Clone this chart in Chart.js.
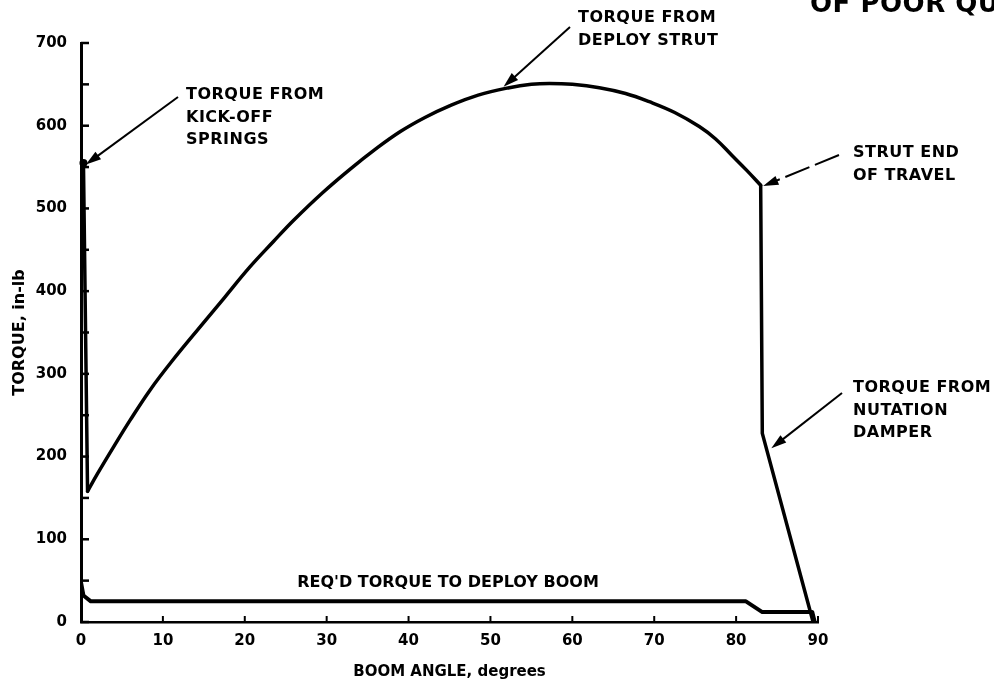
<!DOCTYPE html>
<html>
<head>
<meta charset="utf-8">
<script src="https://cdn.jsdelivr.net/npm/chart.js@4"></script>
<style>
  html, body { margin: 0; padding: 0; background: #fff; }
  #wrap { width: 994px; height: 689px; }
</style>
</head>
<body>
<div id="wrap"><canvas id="torqueChart" width="994" height="689"></canvas></div>
<script>
// ===== boom deploy torque =====

// kick-off springs (drop at start)
const kickAngle  = [0.3, 0.8];
const kickTorque = [555, 158];

// deploy strut arc
const strutAngle  = [0.8, 2, 4, 6, 8.4, 11, 14.9, 17.5, 20.6, 23.5, 26, 29.5, 32.8, 36, 39, 42, 45, 48.5, 52.3, 55, 57.2, 60, 63.3, 66.5, 69.4, 72.5, 75.5, 77.5, 79.5, 81.3, 83.0];
const strutTorque = [158, 179, 212, 244, 280, 314, 361, 392, 429, 460, 486, 519, 547, 572, 593, 610, 624, 637, 646, 650, 651, 650, 646, 639, 629, 616, 599, 584, 564, 546, 528];

// strut end of travel + nutation damper
const damperAngle  = [83.0, 83.2, 89.4];
const damperTorque = [528, 228, 0];

// required torque to deploy boom
const reqAngle  = [0, 0.3, 1.2, 81.2, 83.2, 89.3, 89.6];
const reqTorque = [48, 32, 25, 25, 12, 12, 0];

const xTickStep = 10;
const yTickStep = 50;
const yLabelStep = 100;

const FONT = "'DejaVu Sans', sans-serif";

function toPoints(xs, ys) {
  return xs.map((x, i) => ({ x: x, y: ys[i] }));
}

function blackLine(label, xs, ys, width, tension) {
  return {
    label: label,
    data: toPoints(xs, ys),
    borderColor: '#000',
    borderWidth: width,
    borderJoinStyle: 'round',
    borderCapStyle: 'round',
    pointRadius: 0,
    tension: tension,
    fill: false,
  };
}

// inward tick marks + callout labels
const decorPlugin = {
  id: 'decor',
  afterDraw(chart) {
    const c = chart.ctx;
    const xs = chart.scales.x, ys = chart.scales.y;
    const area = chart.chartArea;
    c.save();
    c.strokeStyle = '#000';
    c.fillStyle = '#000';

    c.lineWidth = 2.5;
    for (let v = ys.min; v <= ys.max; v += yTickStep) {
      const y = ys.getPixelForValue(v);
      c.beginPath(); c.moveTo(area.left, y); c.lineTo(area.left + 8, y); c.stroke();
    }
    c.lineWidth = 2;
    for (let v = xs.min + xTickStep; v <= xs.max; v += xTickStep) {
      const x = xs.getPixelForValue(v);
      c.beginPath(); c.moveTo(x, area.bottom); c.lineTo(x, area.bottom - 6); c.stroke();
    }

    // blob at top of kick-off spring drop
    c.beginPath();
    c.arc(xs.getPixelForValue(kickAngle[0]), ys.getPixelForValue(kickTorque[0]), 4, 0, Math.PI * 2);
    c.fill();

    const arrow = (x0, y0, ax, ay, dash) => {
      const x1 = xs.getPixelForValue(ax), y1 = ys.getPixelForValue(ay);
      const ang = Math.atan2(y1 - y0, x1 - x0);
      c.lineWidth = 2;
      c.setLineDash(dash || []);
      c.beginPath(); c.moveTo(x0, y0);
      c.lineTo(x1 - Math.cos(ang) * 10, y1 - Math.sin(ang) * 10); c.stroke();
      c.setLineDash([]);
      c.beginPath();
      c.moveTo(x1, y1);
      c.lineTo(x1 - Math.cos(ang - 0.3) * 16, y1 - Math.sin(ang - 0.3) * 16);
      c.lineTo(x1 - Math.cos(ang + 0.3) * 16, y1 - Math.sin(ang + 0.3) * 16);
      c.closePath(); c.fill();
    };

    const label = (lines, x, y) => {
      c.font = 'bold 16px ' + FONT;
      c.letterSpacing = '0.5px';
      c.textAlign = 'left';
      c.textBaseline = 'middle';
      lines.forEach((t, i) => c.fillText(t, x, y + i * 22.5));
    };

    label(['TORQUE FROM', 'KICK-OFF', 'SPRINGS'], 186, 95);
    arrow(178, 97, 0.6, 553);

    label(['TORQUE FROM', 'DEPLOY STRUT'], 578, 18);
    arrow(570, 27, 51.6, 647);

    label(['STRUT END', 'OF TRAVEL'], 853, 153);
    arrow(839, 155, 83.3, 527, [26, 6]);

    label(['TORQUE FROM', 'NUTATION', 'DAMPER'], 853, 388);
    arrow(842, 393, 84.3, 210);

    c.font = 'bold 16px ' + FONT;
    c.letterSpacing = '0px';
    c.textAlign = 'center';
    c.fillText("REQ'D TORQUE TO DEPLOY BOOM", 448, 583);

    // cropped stamp at top right
    c.font = 'bold 26px ' + FONT;
    c.letterSpacing = '0.5px';
    c.textAlign = 'left';
    c.textBaseline = 'alphabetic';
    c.fillText('OF POOR QUALITY', 810, 12);

    c.restore();
  }
};

new Chart(document.getElementById('torqueChart'), {
  type: 'line',
  data: {
    datasets: [
      blackLine('Kick-off springs', kickAngle, kickTorque, 3.5, 0),
      blackLine('Deploy strut', strutAngle, strutTorque, 3.5, 0.4),
      blackLine('Nutation damper', damperAngle, damperTorque, 3.5, 0),
      blackLine("Req'd torque", reqAngle, reqTorque, 4, 0),
    ]
  },
  options: {
    responsive: false,
    animation: false,
    layout: { padding: { left: 0, right: 176, top: 43, bottom: 0 } },
    plugins: { legend: { display: false }, tooltip: { enabled: false } },
    scales: {
      x: {
        type: 'linear',
        min: 0, max: 90,
        afterFit: s => { s.height = 67; },
        grid: { display: false, drawTicks: false },
        border: { display: true, color: '#000', width: 2.5 },
        ticks: { stepSize: xTickStep, padding: 10, color: '#000', font: { family: FONT, size: 15, weight: 'bold' } },
        title: { display: true, text: 'BOOM ANGLE, degrees', color: '#000', padding: { top: 0, bottom: 8 }, font: { family: FONT, size: 15, weight: 'bold' } }
      },
      y: {
        min: 0, max: 700,
        afterFit: s => { s.width = 81; },
        grid: { display: false, drawTicks: false },
        border: { display: true, color: '#000', width: 3 },
        ticks: {
          stepSize: yTickStep, padding: 14, color: '#000',
          font: { family: FONT, size: 15, weight: 'bold' },
          callback: v => v % yLabelStep === 0 ? v : ''
        },
        title: { display: true, text: 'TORQUE, in-lb', color: '#000', padding: { top: 10, bottom: 0 }, font: { family: FONT, size: 16, weight: 'bold' } }
      }
    }
  },
  plugins: [decorPlugin]
});
</script>
</body>
</html>
